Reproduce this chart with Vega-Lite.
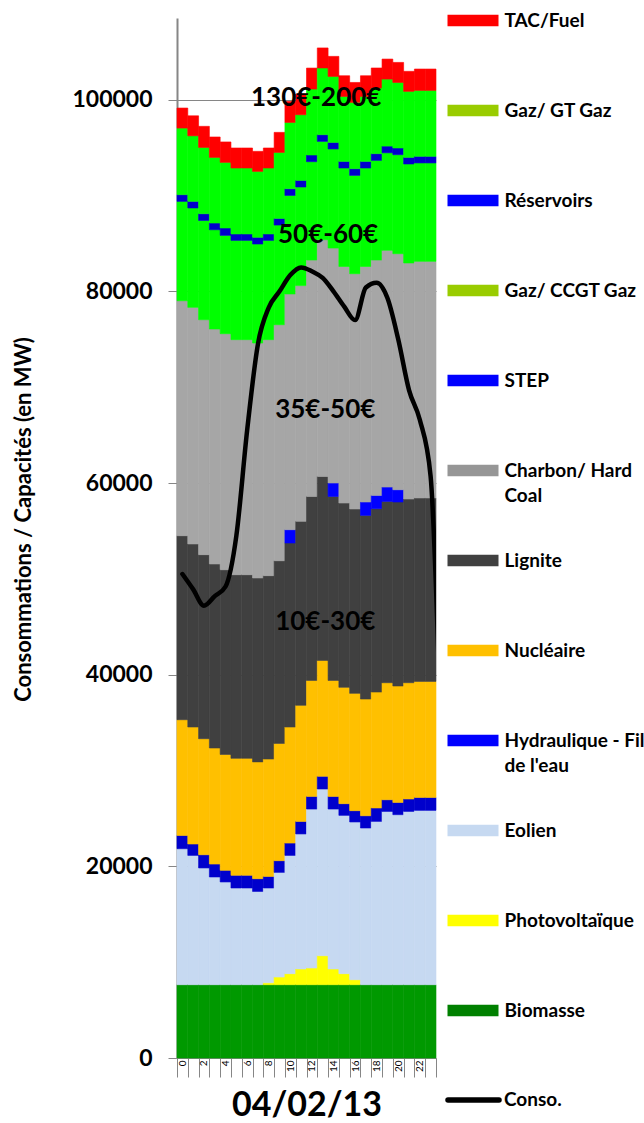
{
  "$schema": "https://vega.github.io/schema/vega-lite/v6.json",
  "width": 259,
  "height": 1040,
  "autosize": {"type": "none"},
  "padding": {"left": 177, "top": 18, "right": 208, "bottom": 65},
  "background": "white",
  "config": {
    "view": {"stroke": null},
    "font": "Lato",
    "legend": {
      "labelFont": "Lato",
      "labelFontSize": 19,
      "labelFontWeight": "bold",
      "labelColor": "#000000",
      "labelLimit": 400,
      "symbolSize": 2601,
      "clipHeight": 90,
      "rowPadding": 0,
      "labelOffset": 6,
      "padding": 0
    }
  },
  "datasets": {
    "gen": [
      {"h":0,"s":"Biomasse","v":7650},{"h":0,"s":"Eolien","v":14190},{"h":0,"s":"Hydraulique - Fil de l'eau","v":1380},{"h":0,"s":"Nucléaire","v":12080},{"h":0,"s":"Lignite","v":19200},{"h":0,"s":"Charbon/ Hard Coal","v":24520},{"h":0,"s":"Gaz/ CCGT Gaz","v":10370},{"h":0,"s":"Réservoirs","v":700},{"h":0,"s":"Gaz/ GT Gaz","v":6950},{"h":0,"s":"TAC/Fuel","v":2090},
      {"h":1,"s":"Biomasse","v":7650},{"h":1,"s":"Eolien","v":13490},{"h":1,"s":"Hydraulique - Fil de l'eau","v":1190},{"h":1,"s":"Nucléaire","v":12210},{"h":1,"s":"Lignite","v":19100},{"h":1,"s":"Charbon/ Hard Coal","v":24690},{"h":1,"s":"Gaz/ CCGT Gaz","v":10370},{"h":1,"s":"Réservoirs","v":690},{"h":1,"s":"Gaz/ GT Gaz","v":6840},{"h":1,"s":"TAC/Fuel","v":2090},
      {"h":2,"s":"Biomasse","v":7650},{"h":2,"s":"Eolien","v":12180},{"h":2,"s":"Hydraulique - Fil de l'eau","v":1380},{"h":2,"s":"Nucléaire","v":12110},{"h":2,"s":"Lignite","v":19200},{"h":2,"s":"Charbon/ Hard Coal","v":24520},{"h":2,"s":"Gaz/ CCGT Gaz","v":10360},{"h":2,"s":"Réservoirs","v":700},{"h":2,"s":"Gaz/ GT Gaz","v":6920},{"h":2,"s":"TAC/Fuel","v":2200},
      {"h":3,"s":"Biomasse","v":7650},{"h":3,"s":"Eolien","v":11240},{"h":3,"s":"Hydraulique - Fil de l'eau","v":1350},{"h":3,"s":"Nucléaire","v":12110},{"h":3,"s":"Lignite","v":19200},{"h":3,"s":"Charbon/ Hard Coal","v":24520},{"h":3,"s":"Gaz/ CCGT Gaz","v":10360},{"h":3,"s":"Réservoirs","v":700},{"h":3,"s":"Gaz/ GT Gaz","v":6850},{"h":3,"s":"TAC/Fuel","v":2130},
      {"h":4,"s":"Biomasse","v":7650},{"h":4,"s":"Eolien","v":10720},{"h":4,"s":"Hydraulique - Fil de l'eau","v":1210},{"h":4,"s":"Nucléaire","v":12100},{"h":4,"s":"Lignite","v":19270},{"h":4,"s":"Charbon/ Hard Coal","v":24630},{"h":4,"s":"Gaz/ CCGT Gaz","v":10260},{"h":4,"s":"Réservoirs","v":770},{"h":4,"s":"Gaz/ GT Gaz","v":6850},{"h":4,"s":"TAC/Fuel","v":2130},
      {"h":5,"s":"Biomasse","v":7650},{"h":5,"s":"Eolien","v":10090},{"h":5,"s":"Hydraulique - Fil de l'eau","v":1320},{"h":5,"s":"Nucléaire","v":12210},{"h":5,"s":"Lignite","v":19160},{"h":5,"s":"Charbon/ Hard Coal","v":24530},{"h":5,"s":"Gaz/ CCGT Gaz","v":10360},{"h":5,"s":"Réservoirs","v":670},{"h":5,"s":"Gaz/ GT Gaz","v":6880},{"h":5,"s":"TAC/Fuel","v":2090},
      {"h":6,"s":"Biomasse","v":7650},{"h":6,"s":"Eolien","v":10090},{"h":6,"s":"Hydraulique - Fil de l'eau","v":1320},{"h":6,"s":"Nucléaire","v":12210},{"h":6,"s":"Lignite","v":19160},{"h":6,"s":"Charbon/ Hard Coal","v":24530},{"h":6,"s":"Gaz/ CCGT Gaz","v":10360},{"h":6,"s":"Réservoirs","v":670},{"h":6,"s":"Gaz/ GT Gaz","v":6880},{"h":6,"s":"TAC/Fuel","v":2090},
      {"h":7,"s":"Biomasse","v":7650},{"h":7,"s":"Eolien","v":9730},{"h":7,"s":"Hydraulique - Fil de l'eau","v":1330},{"h":7,"s":"Nucléaire","v":12190},{"h":7,"s":"Lignite","v":19190},{"h":7,"s":"Charbon/ Hard Coal","v":24520},{"h":7,"s":"Gaz/ CCGT Gaz","v":10330},{"h":7,"s":"Réservoirs","v":700},{"h":7,"s":"Gaz/ GT Gaz","v":6880},{"h":7,"s":"TAC/Fuel","v":2090},
      {"h":8,"s":"Biomasse","v":7650},{"h":8,"s":"Photovoltaïque","v":200},{"h":8,"s":"Eolien","v":9890},{"h":8,"s":"Hydraulique - Fil de l'eau","v":1210},{"h":8,"s":"Nucléaire","v":12250},{"h":8,"s":"Lignite","v":19130},{"h":8,"s":"Charbon/ Hard Coal","v":24630},{"h":8,"s":"Gaz/ CCGT Gaz","v":10360},{"h":8,"s":"Réservoirs","v":670},{"h":8,"s":"Gaz/ GT Gaz","v":6880},{"h":8,"s":"TAC/Fuel","v":2090},
      {"h":9,"s":"Biomasse","v":7650},{"h":9,"s":"Photovoltaïque","v":800},{"h":9,"s":"Eolien","v":10920},{"h":9,"s":"Hydraulique - Fil de l'eau","v":1220},{"h":9,"s":"Nucléaire","v":12240},{"h":9,"s":"Lignite","v":19060},{"h":9,"s":"Charbon/ Hard Coal","v":24630},{"h":9,"s":"Gaz/ CCGT Gaz","v":10400},{"h":9,"s":"Réservoirs","v":690},{"h":9,"s":"Gaz/ GT Gaz","v":6890},{"h":9,"s":"TAC/Fuel","v":2090},
      {"h":10,"s":"Biomasse","v":7650},{"h":10,"s":"Photovoltaïque","v":1150},{"h":10,"s":"Eolien","v":12340},{"h":10,"s":"Hydraulique - Fil de l'eau","v":1290},{"h":10,"s":"Nucléaire","v":12110},{"h":10,"s":"Lignite","v":19200},{"h":10,"s":"STEP","v":1390},{"h":10,"s":"Charbon/ Hard Coal","v":24600},{"h":10,"s":"Gaz/ CCGT Gaz","v":10280},{"h":10,"s":"Réservoirs","v":700},{"h":10,"s":"Gaz/ GT Gaz","v":6920},{"h":10,"s":"TAC/Fuel","v":2190},
      {"h":11,"s":"Biomasse","v":7650},{"h":11,"s":"Photovoltaïque","v":1640},{"h":11,"s":"Eolien","v":14090},{"h":11,"s":"Hydraulique - Fil de l'eau","v":1310},{"h":11,"s":"Nucléaire","v":12110},{"h":11,"s":"Lignite","v":19200},{"h":11,"s":"Charbon/ Hard Coal","v":24600},{"h":11,"s":"Gaz/ CCGT Gaz","v":10290},{"h":11,"s":"Réservoirs","v":690},{"h":11,"s":"Gaz/ GT Gaz","v":6850},{"h":11,"s":"TAC/Fuel","v":2160},
      {"h":12,"s":"Biomasse","v":7650},{"h":12,"s":"Photovoltaïque","v":1740},{"h":12,"s":"Eolien","v":16590},{"h":12,"s":"Hydraulique - Fil de l'eau","v":1320},{"h":12,"s":"Nucléaire","v":12100},{"h":12,"s":"Lignite","v":19200},{"h":12,"s":"Charbon/ Hard Coal","v":24670},{"h":12,"s":"Gaz/ CCGT Gaz","v":10260},{"h":12,"s":"Réservoirs","v":700},{"h":12,"s":"Gaz/ GT Gaz","v":6880},{"h":12,"s":"TAC/Fuel","v":2190},
      {"h":13,"s":"Biomasse","v":7650},{"h":13,"s":"Photovoltaïque","v":3025},{"h":13,"s":"Eolien","v":17395},{"h":13,"s":"Hydraulique - Fil de l'eau","v":1320},{"h":13,"s":"Nucléaire","v":12100},{"h":13,"s":"Lignite","v":19200},{"h":13,"s":"Charbon/ Hard Coal","v":24700},{"h":13,"s":"Gaz/ CCGT Gaz","v":10260},{"h":13,"s":"Réservoirs","v":700},{"h":13,"s":"Gaz/ GT Gaz","v":6960},{"h":13,"s":"TAC/Fuel","v":2090},
      {"h":14,"s":"Biomasse","v":7650},{"h":14,"s":"Photovoltaïque","v":1640},{"h":14,"s":"Eolien","v":16690},{"h":14,"s":"Hydraulique - Fil de l'eau","v":1320},{"h":14,"s":"Nucléaire","v":12100},{"h":14,"s":"Lignite","v":19200},{"h":14,"s":"STEP","v":1400},{"h":14,"s":"Charbon/ Hard Coal","v":24520},{"h":14,"s":"Gaz/ CCGT Gaz","v":10340},{"h":14,"s":"Réservoirs","v":680},{"h":14,"s":"Gaz/ GT Gaz","v":6890},{"h":14,"s":"TAC/Fuel","v":2090},
      {"h":15,"s":"Biomasse","v":7650},{"h":15,"s":"Photovoltaïque","v":1150},{"h":15,"s":"Eolien","v":16520},{"h":15,"s":"Hydraulique - Fil de l'eau","v":1220},{"h":15,"s":"Nucléaire","v":12140},{"h":15,"s":"Lignite","v":19230},{"h":15,"s":"Charbon/ Hard Coal","v":24690},{"h":15,"s":"Gaz/ CCGT Gaz","v":10270},{"h":15,"s":"Réservoirs","v":690},{"h":15,"s":"Gaz/ GT Gaz","v":6780},{"h":15,"s":"TAC/Fuel","v":2160},
      {"h":16,"s":"Biomasse","v":7650},{"h":16,"s":"Photovoltaïque","v":520},{"h":16,"s":"Eolien","v":16460},{"h":16,"s":"Hydraulique - Fil de l'eau","v":1180},{"h":16,"s":"Nucléaire","v":12240},{"h":16,"s":"Lignite","v":19240},{"h":16,"s":"Charbon/ Hard Coal","v":24550},{"h":16,"s":"Gaz/ CCGT Gaz","v":10260},{"h":16,"s":"Réservoirs","v":700},{"h":16,"s":"Gaz/ GT Gaz","v":6920},{"h":16,"s":"TAC/Fuel","v":2080},
      {"h":17,"s":"Biomasse","v":7650},{"h":17,"s":"Eolien","v":16350},{"h":17,"s":"Hydraulique - Fil de l'eau","v":1280},{"h":17,"s":"Nucléaire","v":12180},{"h":17,"s":"Lignite","v":19160},{"h":17,"s":"STEP","v":1400},{"h":17,"s":"Charbon/ Hard Coal","v":24580},{"h":17,"s":"Gaz/ CCGT Gaz","v":10270},{"h":17,"s":"Réservoirs","v":690},{"h":17,"s":"Gaz/ GT Gaz","v":6780},{"h":17,"s":"TAC/Fuel","v":2160},
      {"h":18,"s":"Biomasse","v":7650},{"h":18,"s":"Eolien","v":17040},{"h":18,"s":"Hydraulique - Fil de l'eau","v":1400},{"h":18,"s":"Nucléaire","v":12100},{"h":18,"s":"Lignite","v":19130},{"h":18,"s":"STEP","v":1390},{"h":18,"s":"Charbon/ Hard Coal","v":24560},{"h":18,"s":"Gaz/ CCGT Gaz","v":10400},{"h":18,"s":"Réservoirs","v":700},{"h":18,"s":"Gaz/ GT Gaz","v":6850},{"h":18,"s":"TAC/Fuel","v":2090},
      {"h":19,"s":"Biomasse","v":7650},{"h":19,"s":"Eolien","v":18080},{"h":19,"s":"Hydraulique - Fil de l'eau","v":1220},{"h":19,"s":"Nucléaire","v":12210},{"h":19,"s":"Lignite","v":18920},{"h":19,"s":"STEP","v":1500},{"h":19,"s":"Charbon/ Hard Coal","v":24700},{"h":19,"s":"Gaz/ CCGT Gaz","v":10180},{"h":19,"s":"Réservoirs","v":700},{"h":19,"s":"Gaz/ GT Gaz","v":6990},{"h":19,"s":"TAC/Fuel","v":2090},
      {"h":20,"s":"Biomasse","v":7650},{"h":20,"s":"Eolien","v":17740},{"h":20,"s":"Hydraulique - Fil de l'eau","v":1280},{"h":20,"s":"Nucléaire","v":12150},{"h":20,"s":"Lignite","v":19200},{"h":20,"s":"STEP","v":1280},{"h":20,"s":"Charbon/ Hard Coal","v":24630},{"h":20,"s":"Gaz/ CCGT Gaz","v":10330},{"h":20,"s":"Réservoirs","v":700},{"h":20,"s":"Gaz/ GT Gaz","v":6840},{"h":20,"s":"TAC/Fuel","v":2090},
      {"h":21,"s":"Biomasse","v":7650},{"h":21,"s":"Eolien","v":18080},{"h":21,"s":"Hydraulique - Fil de l'eau","v":1300},{"h":21,"s":"Nucléaire","v":12130},{"h":21,"s":"Lignite","v":19170},{"h":21,"s":"Charbon/ Hard Coal","v":24630},{"h":21,"s":"Gaz/ CCGT Gaz","v":10330},{"h":21,"s":"Réservoirs","v":690},{"h":21,"s":"Gaz/ GT Gaz","v":6890},{"h":21,"s":"TAC/Fuel","v":2090},
      {"h":22,"s":"Biomasse","v":7650},{"h":22,"s":"Eolien","v":18190},{"h":22,"s":"Hydraulique - Fil de l'eau","v":1350},{"h":22,"s":"Nucléaire","v":12110},{"h":22,"s":"Lignite","v":19140},{"h":22,"s":"Charbon/ Hard Coal","v":24690},{"h":22,"s":"Gaz/ CCGT Gaz","v":10270},{"h":22,"s":"Réservoirs","v":690},{"h":22,"s":"Gaz/ GT Gaz","v":6880},{"h":22,"s":"TAC/Fuel","v":2230},
      {"h":23,"s":"Biomasse","v":7650},{"h":23,"s":"Eolien","v":18190},{"h":23,"s":"Hydraulique - Fil de l'eau","v":1350},{"h":23,"s":"Nucléaire","v":12110},{"h":23,"s":"Lignite","v":19140},{"h":23,"s":"Charbon/ Hard Coal","v":24690},{"h":23,"s":"Gaz/ CCGT Gaz","v":10270},{"h":23,"s":"Réservoirs","v":690},{"h":23,"s":"Gaz/ GT Gaz","v":6880},{"h":23,"s":"TAC/Fuel","v":2230}
    ],
    "conso": [
      {"h":0,"v":50500},{"h":1,"v":48900},{"h":2,"v":47200},{"h":3,"v":48200},{"h":4,"v":49200},{"h":5,"v":54500},{"h":6,"v":65500},{"h":7,"v":74500},{"h":8,"v":78300},{"h":9,"v":80000},{"h":10,"v":81700},{"h":11,"v":82500},{"h":12,"v":82100},{"h":13,"v":81400},{"h":14,"v":80000},{"h":15,"v":78400},{"h":16,"v":77000},{"h":17,"v":80400},{"h":18,"v":80900},{"h":19,"v":79300},{"h":20,"v":75000},{"h":21,"v":69700},{"h":22,"v":66600},{"h":23,"v":60700},{"h":24,"v":32000}
    ],
    "notes": [
      {"t":"130€-200€","x":12.4,"y":99370},
      {"t":"50€-60€","x":13.5,"y":85050},
      {"t":"35€-50€","x":13.24,"y":66785},
      {"t":"10€-30€","x":13.24,"y":44700}
    ]
  },
  "layer": [
    {
      "data": {"name": "gen"},
      "transform": [
        {"calculate": "indexof(['Biomasse','Photovoltaïque','Eolien',\"Hydraulique - Fil de l'eau\",'Nucléaire','Lignite','STEP','Charbon/ Hard Coal','Gaz/ CCGT Gaz','Réservoirs','Gaz/ GT Gaz','TAC/Fuel'], datum.s)", "as": "k"}
      ],
      "mark": {"type": "bar", "strokeWidth": 0.6},
      "encoding": {
        "x": {
          "field": "h", "type": "ordinal",
          "scale": {"paddingInner": 0, "paddingOuter": 0},
          "axis": {
            "title": "04/02/13",
            "titleFont": "Lato", "titleFontSize": 34, "titleFontWeight": "bold", "titleColor": "#000000",
            "titleBaseline": "alphabetic", "titleY": 57,
            "labelExpr": "datum.value % 2 == 0 ? datum.label : ''",
            "labelAngle": 270, "labelFont": "Lato", "labelFontSize": 10, "labelColor": "#000000",
            "labelPadding": -17, "labelOverlap": false,
            "tickSize": 19, "tickColor": "#868686", "tickBand": "extent",
            "domainColor": "#868686"
          }
        },
        "y": {
          "field": "v", "type": "quantitative", "stack": "zero",
          "scale": {"domain": [0, 108525], "nice": false},
          "axis": {
            "values": [0, 20000, 40000, 60000, 80000, 100000],
            "format": "d",
            "grid": true, "gridColor": "#868686", "gridWidth": 1,
            "tickSize": 9, "tickColor": "#868686",
            "domainColor": "#868686", "domainWidth": 2,
            "labelFont": "Lato", "labelFontSize": 23, "labelFontWeight": "bold", "labelColor": "#000000",
            "labelPadding": 16,
            "title": "Consommations / Capacités (en MW)",
            "titleFont": "Lato", "titleFontSize": 22, "titleFontWeight": "bold", "titleColor": "#000000",
            "titleAngle": 270, "titleX": -154, "titleY": 501, "titleAlign": "center", "titleBaseline": "middle"
          }
        },
        "color": {
          "field": "s", "type": "nominal",
          "scale": {
            "domain": ["TAC/Fuel", "Gaz/ GT Gaz", "Réservoirs", "Gaz/ CCGT Gaz", "STEP", "Charbon/ Hard Coal", "Lignite", "Nucléaire", "Hydraulique - Fil de l'eau", "Eolien", "Photovoltaïque", "Biomasse"],
            "range": ["#FF0000", "#00FF00", "#0000CC", "#00FF00", "#0000FF", "#A6A6A6", "#404040", "#FFC000", "#0000CC", "#C6D9F1", "#FFFF00", "#009900"]
          },
          "legend": {
            "title": null,
            "orient": "none",
            "legendX": 264.5,
            "legendY": -42.5,
            "symbolType": "M-1,0H1",
            "symbolStrokeWidth": 0,
            "labelOffset": 0,
            "labelExpr": "datum.label == 'Charbon/ Hard Coal' ? ['Charbon/ Hard', 'Coal'] : datum.label == \"Hydraulique - Fil de l'eau\" ? ['Hydraulique - Fil', \"de l'eau\"] : datum.label",
            "encode": {
              "symbols": {
                "update": {
                  "stroke": {"signal": "datum.value == 'Gaz/ GT Gaz' || datum.value == 'Gaz/ CCGT Gaz' ? '#99CC00' : datum.value == 'Charbon/ Hard Coal' ? '#969696' : datum.value == 'Biomasse' ? '#008000' : (datum.value == 'Réservoirs' || datum.value == 'STEP' || datum.value == \"Hydraulique - Fil de l'eau\") ? '#0000FF' : scale('color', datum.value)"},
                  "strokeWidth": {"value": 11.3},
                  "strokeCap": {"value": "butt"}
                }
              },
              "labels": {
                "update": {
                  "lineHeight": {"value": 25}
                }
              }
            }
          }
        },
        "stroke": {
          "field": "s", "type": "nominal",
          "scale": {
            "domain": ["TAC/Fuel", "Gaz/ GT Gaz", "Réservoirs", "Gaz/ CCGT Gaz", "STEP", "Charbon/ Hard Coal", "Lignite", "Nucléaire", "Hydraulique - Fil de l'eau", "Eolien", "Photovoltaïque", "Biomasse"],
            "range": ["#FF0000", "#00FF00", "#0000CC", "#00FF00", "#0000FF", "#A6A6A6", "#404040", "#FFC000", "#0000CC", "#C6D9F1", "#FFFF00", "#009900"]
          },
          "legend": null
        },
        "order": {"field": "k", "type": "quantitative"}
      }
    },
    {
      "layer": [
        {
          "data": {"name": "conso"},
          "mark": {"type": "line", "interpolate": "monotone", "strokeWidth": 4.5, "strokeCap": "round", "clip": true},
          "encoding": {
            "x": {"field": "h", "type": "quantitative", "scale": {"domain": [-0.5, 23.5], "nice": false, "zero": false}, "axis": null},
            "y": {
              "field": "v", "type": "quantitative",
              "scale": {"domain": [0, 108525], "nice": false},
              "axis": {"orient": "right", "values": [2010, 21530, 41250, 60870, 80590, 100210], "labels": false, "domain": false, "grid": false, "ticks": true, "tickSize": 5, "tickColor": "#868686", "title": null}
            },
            "stroke": {
              "datum": "Conso.",
              "scale": {"range": ["#000000"]},
              "legend": {
                "title": null,
                "orient": "none",
                "legendX": 268,
                "legendY": 1037,
                "symbolType": "stroke",
                "symbolStrokeWidth": 5.5,
                "symbolStrokeColor": "#000000",
                "labelOffset": 2,
                "encode": {"symbols": {"update": {"strokeCap": {"value": "round"}}}}
              }
            }
          }
        },
        {
          "data": {"name": "notes"},
          "mark": {"type": "text", "font": "Lato", "fontSize": 26, "fontWeight": "bold", "baseline": "alphabetic", "align": "center", "color": "#000000"},
          "encoding": {
            "x": {"field": "x", "type": "quantitative", "scale": {"domain": [-0.5, 23.5], "nice": false, "zero": false}, "axis": null},
            "y": {"field": "y", "type": "quantitative", "scale": {"domain": [0, 108525], "nice": false}, "axis": null},
            "text": {"field": "t"}
          }
        }
      ]
    }
  ],
  "resolve": {"scale": {"x": "independent", "y": "independent", "stroke": "independent"}}
}
